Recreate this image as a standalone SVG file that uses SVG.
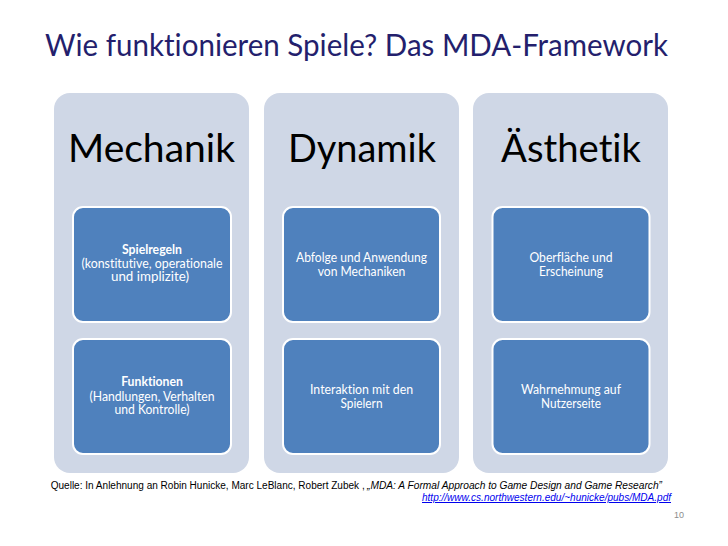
<svg xmlns="http://www.w3.org/2000/svg" width="728" height="546" viewBox="0 0 728 546">
<style>
text{font-variant-ligatures:none;font-feature-settings:"liga" 0,"clig" 0}
.title{font-family:Lato,"Open Sans","Liberation Sans",sans-serif;font-size:30px;fill:#241F6D}
.panel{fill:#CFD7E6}
.head{font-family:Lato,"Open Sans","Liberation Sans",sans-serif;font-size:38px;fill:#000}
.box{fill:#4F81BD;stroke:#fff;stroke-width:2}
.bt{font-family:Lato,"Open Sans","Liberation Sans",sans-serif;font-size:12.5px;fill:#fff;text-anchor:middle}
.b{font-weight:bold}
.cite{font-family:"Liberation Sans",Arial,sans-serif;font-size:10px;fill:#000}
.url{font-family:"Liberation Sans",Arial,sans-serif;font-size:10px;fill:#0000EE;font-style:italic;text-decoration:underline}
.pg{font-family:"Liberation Sans",Arial,sans-serif;font-size:9px;fill:#8C8C8C}
</style>
<rect width="728" height="546" fill="#fff"/>
<text class="title" x="45" y="56" textLength="623" lengthAdjust="spacingAndGlyphs">Wie funktionieren Spiele? Das MDA-Framework</text>

<g id="mechanik">
<rect class="panel" x="54" y="93" width="195" height="380" rx="16"/>
<text class="head" x="68" y="162" textLength="167" lengthAdjust="spacingAndGlyphs">Mechanik</text>
</g>
<g id="spielregeln">
<rect class="box" x="73" y="207" width="158" height="115" rx="10"/>
<text class="bt b" x="152" y="254" textLength="60" lengthAdjust="spacingAndGlyphs">Spielregeln</text>
<text class="bt" x="152" y="267.5" textLength="141" lengthAdjust="spacingAndGlyphs">(konstitutive, operationale</text>
<text class="bt" x="150" y="281" textLength="78" lengthAdjust="spacingAndGlyphs">und implizite)</text>
</g>
<g id="funktionen">
<rect class="box" x="73" y="339" width="158" height="115" rx="10"/>
<text class="bt b" x="152" y="386" textLength="61.7" lengthAdjust="spacingAndGlyphs">Funktionen</text>
<text class="bt" x="152" y="400.5" textLength="125" lengthAdjust="spacingAndGlyphs">(Handlungen, Verhalten</text>
<text class="bt" x="152" y="414" textLength="75" lengthAdjust="spacingAndGlyphs">und Kontrolle)</text>
</g>

<g id="dynamik">
<rect class="panel" x="264" y="93" width="195" height="380" rx="16"/>
<text class="head" x="288" y="162" textLength="148" lengthAdjust="spacingAndGlyphs">Dynamik</text>
</g>
<g id="abfolge">
<rect class="box" x="283" y="207" width="157" height="115" rx="10"/>
<text class="bt" x="361.5" y="262" textLength="131" lengthAdjust="spacingAndGlyphs">Abfolge und Anwendung</text>
<text class="bt" x="361.5" y="275.5" textLength="87.7" lengthAdjust="spacingAndGlyphs">von Mechaniken</text>
</g>
<g id="interaktion">
<rect class="box" x="283" y="339" width="157" height="115" rx="10"/>
<text class="bt" x="361.5" y="394" textLength="103" lengthAdjust="spacingAndGlyphs">Interaktion mit den</text>
<text class="bt" x="361.5" y="407.5" textLength="42" lengthAdjust="spacingAndGlyphs">Spielern</text>
</g>

<g id="aesthetik">
<rect class="panel" x="473" y="93" width="195" height="380" rx="16"/>
<text class="head" x="501" y="162" textLength="140" lengthAdjust="spacingAndGlyphs">Ästhetik</text>
</g>
<g id="oberflaeche">
<rect class="box" x="492.5" y="207" width="157" height="115" rx="10"/>
<text class="bt" x="571" y="262" textLength="83" lengthAdjust="spacingAndGlyphs">Oberfläche und</text>
<text class="bt" x="571" y="275.5" textLength="64" lengthAdjust="spacingAndGlyphs">Erscheinung</text>
</g>
<g id="wahrnehmung">
<rect class="box" x="492.5" y="339" width="157" height="115" rx="10"/>
<text class="bt" x="571" y="394" textLength="100" lengthAdjust="spacingAndGlyphs">Wahrnehmung auf</text>
<text class="bt" x="571" y="407.5" textLength="60" lengthAdjust="spacingAndGlyphs">Nutzerseite</text>
</g>

<text class="cite" x="50.7" y="489" textLength="314" lengthAdjust="spacingAndGlyphs">Quelle: In Anlehnung an Robin Hunicke, Marc LeBlanc, Robert Zubek , </text>
<text class="cite" x="367" y="489" font-style="italic" textLength="295" lengthAdjust="spacingAndGlyphs">„MDA: A Formal Approach to Game Design and Game Research”</text>
<text class="url" x="422" y="501" textLength="249" lengthAdjust="spacingAndGlyphs">http://www.cs.northwestern.edu/~hunicke/pubs/MDA.pdf</text>
<text class="pg" x="674" y="518">10</text>
</svg>
